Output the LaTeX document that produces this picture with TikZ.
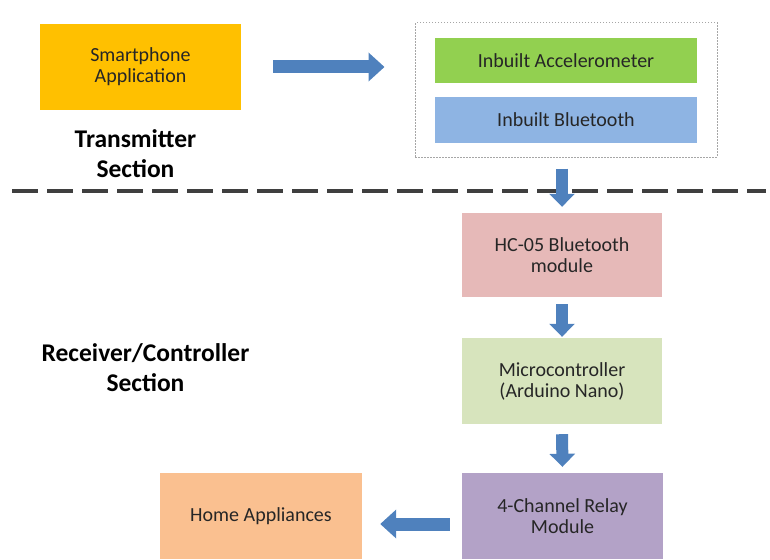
\documentclass[tikz,border=0pt]{standalone}
\usepackage{fontspec}
\setmainfont{Carlito}
\usetikzlibrary{arrows.meta}
\definecolor{cOrange}{HTML}{FFC000}
\definecolor{cGreen}{HTML}{92D050}
\definecolor{cBlue}{HTML}{8EB4E3}
\definecolor{cPink}{HTML}{E6B9B8}
\definecolor{cLightGreen}{HTML}{D7E4BD}
\definecolor{cPurple}{HTML}{B3A2C7}
\definecolor{cPeach}{HTML}{FAC090}
\definecolor{cArrow}{HTML}{4F81BD}
\definecolor{cText}{HTML}{262626}
\definecolor{cDash}{HTML}{3F3F3F}
\tikzset{
  box/.style={fill=#1, draw=none, inner sep=0pt, align=center, text=cText,
    font=\fontsize{20}{21}\selectfont},
  title/.style={inner sep=0pt, align=center, text=black,
    font=\bfseries\fontsize{25.5}{30}\selectfont},
  harrow/.style={draw=cArrow, line width=13pt, -{Triangle[length=16pt,width=28pt]}},
  varrow/.style={draw=cArrow, line width=12pt, -{Triangle[length=13pt,width=25pt]}},
  dotframe/.style={draw=gray!70, line width=1pt, dash pattern=on 1.5pt off 1.5pt},
  sepline/.style={draw=cDash, line width=4pt, dash pattern=on 26pt off 9pt}
}
\begin{document}
\begin{tikzpicture}[x=1pt,y=-1pt]
\useasboundingbox (0,0) rectangle (770,559);
% separator line
\coordinate (sepL) at (12,191);
\coordinate (sepR) at (766,191);
\draw[sepline] (sepL) -- (sepR);
% transmitter section
\node[box=cOrange, minimum width=201pt, minimum height=86pt] (sp) at (140.5,67) {Smartphone\\Application};
\node[dotframe, minimum width=302pt, minimum height=134pt, inner sep=0pt] (dotbox) at (566,90) {};
\node[box=cGreen, minimum width=262pt, minimum height=45pt] (acc) at (566,60.5) {Inbuilt Accelerometer};
\node[box=cBlue, minimum width=262pt, minimum height=46pt] (bt) at (566,120) {Inbuilt Bluetooth};
\node[title] (tx) at (135.5,153.5) {Transmitter\\Section};
% receiver section
\node[box=cPink, minimum width=200pt, minimum height=84pt] (hc) at (562,255) {HC-05 Bluetooth\\module};
\node[box=cLightGreen, minimum width=200pt, minimum height=86pt] (mc) at (562,381) {Microcontroller\\(Arduino Nano)};
\node[box=cPurple, minimum width=201pt, minimum height=86pt] (relay) at (562.5,516) {4-Channel Relay\\Module};
\node[box=cPeach, minimum width=202pt, minimum height=86pt] (home) at (261,516) {Home Appliances};
\node[title] (rx) at (145.5,368) {Receiver/Controller\\Section};
% arrows
\draw[harrow] ([xshift=32pt]sp.east) -- ([xshift=-30pt]dotbox.west |- sp.east);
\draw[varrow] ([yshift=-11pt]dotbox.south -| hc.north) -- ([yshift=6pt]hc.north);
\draw[varrow] ([yshift=-7pt]hc.south) -- ([yshift=1pt]mc.north);
\draw[varrow] ([yshift=-10pt]mc.south) -- ([yshift=6pt]relay.north);
\draw[harrow] ([xshift=-12pt,yshift=-8pt]relay.west) -- ([xshift=18pt,yshift=-8pt]home.east);
\end{tikzpicture}
\end{document}
